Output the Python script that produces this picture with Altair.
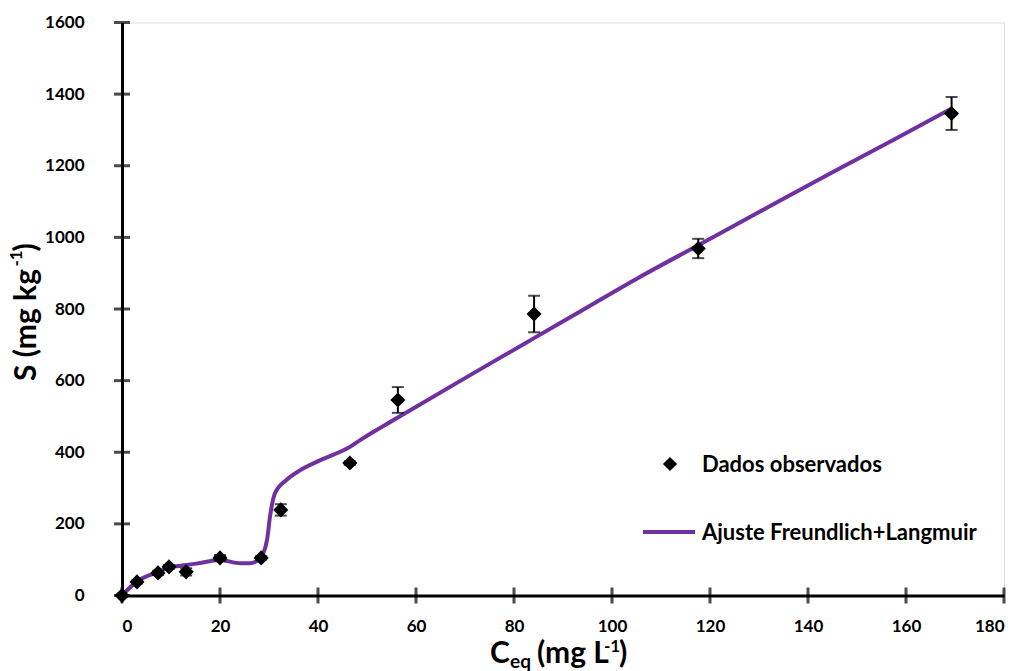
import altair as alt
import pandas as pd

# Observed data (C_eq, S, error)
obs_x = [0, 3.06, 7.35, 9.6, 13.1, 20.0, 28.4, 32.4, 46.5, 56.3, 84.1, 117.6, 169.3]
obs_y = [0, 38, 63, 80, 66, 105, 105, 239, 370, 546, 786, 969, 1346]
obs_err = [0, 4, 6, 5, 10, 8, 5, 16, 5, 36, 51, 27, 46]

# Fitted curve (Freundlich + Langmuir)
fit_x = [0, 3, 7.4, 9.8, 13.2, 16.5, 20, 24.1, 26.1, 28.2, 29.6, 30.2, 31.2, 33.6,
         36.4, 40.5, 46.5, 48.6, 56.3, 70, 84, 93.5, 105.5, 117.6, 130.2, 145, 157.4, 169.3]
fit_y = [0, 38.5, 66, 79, 85, 92, 99, 90, 90, 104, 155, 220, 285, 323,
         350, 378, 415, 434, 497, 607, 718, 793, 888, 978, 1072, 1182, 1272, 1360]

x_ticks = [0, 20, 40, 60, 80, 100, 120, 140, 160, 180]
y_ticks = [0, 200, 400, 600, 800, 1000, 1200, 1400, 1600]

legend_labels = ["Dados observados", "Ajuste Freundlich+Langmuir"]

FONT = "Lato, Liberation Sans, sans-serif"
PURPLE = "#7030A0"

obs = pd.DataFrame({"x": obs_x, "y": obs_y, "err": obs_err})
obs["lo"] = obs["y"] - obs["err"]
obs["hi"] = obs["y"] + obs["err"]
fit = pd.DataFrame({"x": fit_x, "y": fit_y})

xs = alt.Scale(domain=[0, 180], nice=False, zero=False)
ys = alt.Scale(domain=[0, 1600], nice=False, zero=False)

x_axis = alt.Axis(values=x_ticks, ticks=False, grid=False, title=None, format="d",
                  domainWidth=3, domainColor="black", labelFont=FONT,
                  labelFontSize=17, labelFontWeight="bold", labelColor="black",
                  labelPadding=23)
y_axis = alt.Axis(values=y_ticks, ticks=False, grid=False, title=None, format="d",
                  domainWidth=3, domainColor="black", labelFont=FONT,
                  labelFontSize=17, labelFontWeight="bold", labelColor="black",
                  labelPadding=38)

line = alt.Chart(fit).mark_line(color=PURPLE, strokeWidth=4, interpolate="monotone").encode(
    x=alt.X("x:Q", scale=xs, axis=x_axis),
    y=alt.Y("y:Q", scale=ys, axis=y_axis),
)

err_base = alt.Chart(obs).transform_filter("datum.err > 0")
err_rule = err_base.mark_rule(color="black", strokeWidth=2).encode(
    x=alt.X("x:Q", scale=xs), y=alt.Y("lo:Q", scale=ys), y2="hi:Q")
cap_lo = err_base.mark_tick(color="black", orient="horizontal", size=12, thickness=2).encode(
    x=alt.X("x:Q", scale=xs), y=alt.Y("lo:Q", scale=ys))
cap_hi = err_base.mark_tick(color="black", orient="horizontal", size=12, thickness=2).encode(
    x=alt.X("x:Q", scale=xs), y=alt.Y("hi:Q", scale=ys))

points = alt.Chart(obs).mark_point(shape="diamond", filled=True, size=230,
                                   color="black", opacity=1).encode(
    x=alt.X("x:Q", scale=xs), y=alt.Y("y:Q", scale=ys))

# crossing tick marks on the axes
xt = alt.Chart(pd.DataFrame({"t": x_ticks})).mark_tick(
    orient="vertical", size=16, thickness=3, color="black").encode(
    x=alt.X("t:Q", scale=xs), y=alt.datum(0, scale=ys))
yt = alt.Chart(pd.DataFrame({"t": y_ticks})).mark_tick(
    orient="horizontal", size=16, thickness=3, color="black").encode(
    y=alt.Y("t:Q", scale=ys), x=alt.datum(0, scale=xs))

one = alt.Data(values=[{"a": 1}])


def txt(s, x, y, size, angle=0, color="black"):
    return alt.Chart(one).mark_text(
        text=s, font=FONT, fontSize=size, fontWeight="bold", color=color,
        align="left", baseline="alphabetic", angle=angle
    ).encode(x=alt.value(x), y=alt.value(y))


# legend
leg_pt = alt.Chart(one).mark_point(shape="diamond", filled=True, size=200,
                                   color="black", opacity=1).encode(
    x=alt.value(548), y=alt.value(441.5))
leg_line = alt.Chart(one).mark_rule(color=PURPLE, strokeWidth=4).encode(
    x=alt.value(521), x2=alt.value(573), y=alt.value(509.5))
leg_t1 = txt(legend_labels[0], 580, 449.5, 22)
leg_t2 = txt(legend_labels[1], 580, 517.5, 22)

# x title: C_eq (mg L^-1)
xt1 = txt("C", 368, 640.5, 30)
xt2 = txt("eq", 388, 645.5, 19)
xt3 = txt("(mg L", 415, 640.5, 30)
xt4 = txt("-1", 482, 629.5, 17)
xt5 = txt(")", 497, 640.5, 30)

# y title: S (mg kg^-1)
yt1 = txt("S (mg kg", -86, 358.5, 30, angle=270)
yt2 = txt("-1", -100, 244, 17, angle=270)
yt3 = txt(")", -86, 229, 30, angle=270)

chart = alt.layer(
    line, err_rule, cap_lo, cap_hi, points, xt, yt,
    leg_pt, leg_line, leg_t1, leg_t2,
    xt1, xt2, xt3, xt4, xt5, yt1, yt2, yt3,
).properties(
    width=882, height=573,
    autosize=alt.AutoSizeParams(type="none"),
    padding={"left": 122, "top": 22.5, "right": 20, "bottom": 75.5},
).configure_view(stroke=None).configure(background="white")

chart.save("out.html", embed_options={"renderer": "svg", "actions": False})
